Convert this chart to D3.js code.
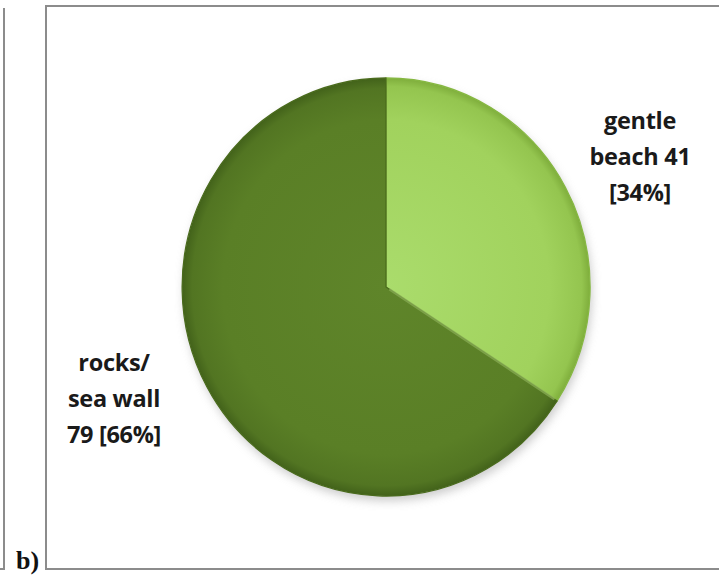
<!DOCTYPE html>
<html>
<head>
<meta charset="utf-8">
<script src="https://cdn.jsdelivr.net/npm/d3@7"></script>
<style>
  html, body { margin: 0; padding: 0; background: #fff; }
  svg { display: block; }
</style>
</head>
<body>
<script>
// Shoreline type of the sites
const categories = ["gentle beach", "rocks/ sea wall"];
const counts = [41, 79];
const percents = [34, 66];
const labelLines = [
  ["gentle", "beach 41", "[34%]"],
  ["rocks/", "sea wall", "79 [66%]"]
];

const W = 719, H = 575;
const svg = d3.select("body").append("svg").attr("width", W).attr("height", H);
const defs = svg.append("defs");

// panel frames
const frame = svg.append("g").attr("fill", "none").attr("stroke", "#8c8c8c").attr("stroke-width", 2);
frame.append("path").attr("d", "M4,8 V569 H-2");
frame.append("rect").attr("x", 46).attr("y", 6).attr("width", 700).attr("height", 563);

svg.append("text")
  .attr("x", 16).attr("y", 569)
  .attr("font-family", "'Liberation Serif', 'DejaVu Serif', serif")
  .attr("font-weight", "bold").attr("font-size", 26)
  .attr("fill", "#111").text("b)");

const cx = 386, cy = 287, rx = 204, ry = 209;

// soft drop shadow under the pie
const blur = defs.append("filter").attr("id", "shadow")
  .attr("x", "-20%").attr("y", "-20%").attr("width", "140%").attr("height", "140%");
blur.append("feGaussianBlur").attr("stdDeviation", 5);

svg.append("ellipse")
  .attr("cx", cx + 2).attr("cy", cy + 5).attr("rx", rx).attr("ry", ry)
  .attr("fill", "#aaaaaa").attr("opacity", 0.6)
  .attr("filter", "url(#shadow)");

// bevelled slice fills
const fills = [
  { id: "gLight", stops: [["0%", "#aadc6c"], ["80%", "#a1d25d"], ["96%", "#94c54f"], ["100%", "#7fae3c"]] },
  { id: "gDark", stops: [["0%", "#5f852a"], ["80%", "#5a7f26"], ["95%", "#527522"], ["100%", "#42621a"]] }
];
fills.forEach(f => {
  const gr = defs.append("radialGradient").attr("id", f.id)
    .attr("gradientUnits", "userSpaceOnUse")
    .attr("cx", 0).attr("cy", 0).attr("r", 1);
  f.stops.forEach(s => gr.append("stop").attr("offset", s[0]).attr("stop-color", s[1]));
});

const data = categories.map((c, i) => ({ category: c, count: counts[i], pct: percents[i], lines: labelLines[i] }));
const pie = d3.pie().value(d => d.count).sort(null);
const arcs = pie(data);
const arc = d3.arc().innerRadius(0).outerRadius(1);

const g = svg.append("g").attr("transform", `translate(${cx},${cy}) scale(${rx},${ry})`);

g.selectAll("path.slice").data(arcs).join("path")
  .attr("class", "slice")
  .attr("d", arc)
  .attr("fill", (d, i) => i === 0 ? "url(#gLight)" : "url(#gDark)")
  .attr("stroke", (d, i) => i === 0 ? "#86b842" : "#4a6b1d")
  .attr("stroke-width", 0.006)
  .attr("stroke-linejoin", "round");

// bevel highlight along the lower divider
const a1 = arcs[0].endAngle;
g.append("line")
  .attr("x1", 0.02 * Math.sin(a1)).attr("y1", -0.02 * Math.cos(a1))
  .attr("x2", 0.985 * Math.sin(a1)).attr("y2", -0.985 * Math.cos(a1))
  .attr("stroke", "#8fb45a").attr("stroke-width", 0.012).attr("opacity", 0.7);

// labels
const labelPos = [[640, 129], [114, 371]];
const lineGap = 36;
data.forEach((d, i) => {
  const t = svg.append("text")
    .attr("text-anchor", "middle")
    .attr("font-family", "'Open Sans', 'Noto Sans', sans-serif")
    .attr("font-weight", "bold").attr("font-size", 23.5)
    .attr("letter-spacing", -0.3)
    .attr("fill", "#1a1a1a");
  d.lines.forEach((ln, j) => {
    t.append("tspan").attr("x", labelPos[i][0]).attr("y", labelPos[i][1] + j * lineGap).text(ln);
  });
});
</script>
</body>
</html>
